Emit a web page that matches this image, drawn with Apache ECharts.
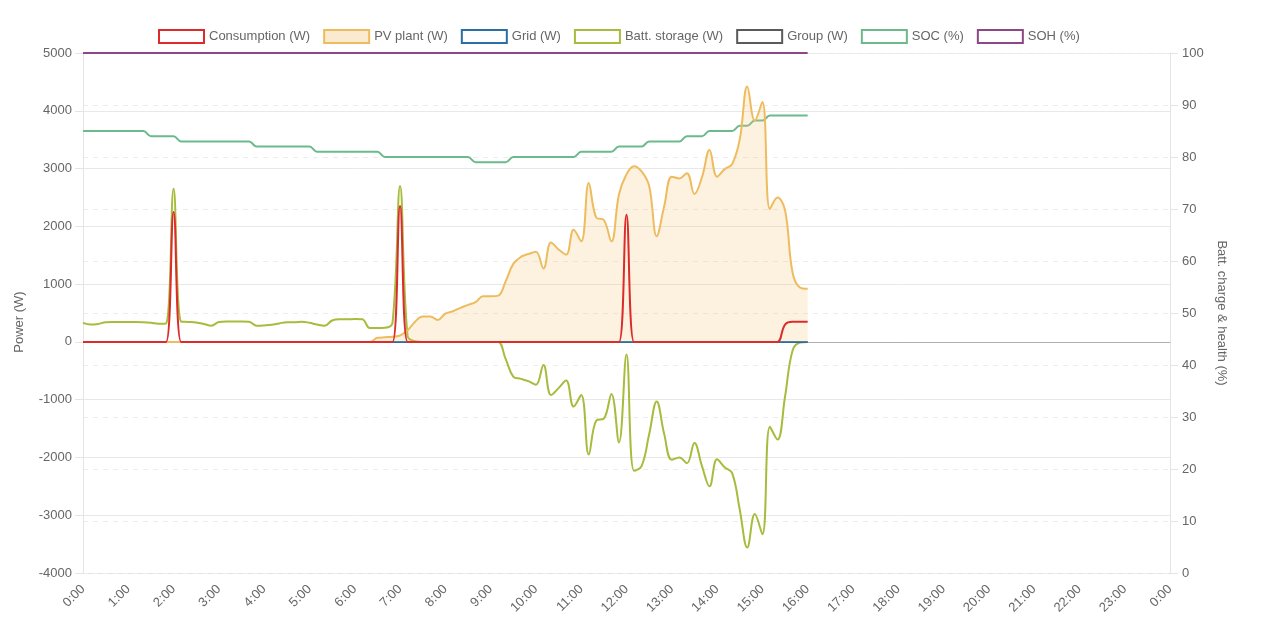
<!DOCTYPE html>
<html><head><meta charset="utf-8">
<script src="https://cdn.jsdelivr.net/npm/echarts@6/dist/echarts.min.js"></script>
<style>html,body{margin:0;padding:0;background:#fff}#c{width:1262px;height:634px}</style>
</head><body><div id="c"></div>
<script>
// Hour tick labels (one per hour, 10-minute data resolution)
const hourLabels = ['0:00','1:00','2:00','3:00','4:00','5:00','6:00','7:00','8:00','9:00','10:00','11:00','12:00','13:00','14:00','15:00','16:00','17:00','18:00','19:00','20:00','21:00','22:00','23:00','0:00'];
const categories = [];
for (let h = 0; h < 24; h++) { for (let m = 0; m < 60; m += 10) categories.push(h + ':' + (m < 10 ? '0' + m : m)); }
categories.push('24:00');

const seriesNames = ['Consumption (W)','PV plant (W)','Grid (W)','Batt. storage (W)','Group (W)','SOC (%)','SOH (%)'];

const consumption = [
0,0,0,0,0,0,0,0,0,0,
0,0,2250,0,0,0,0,0,0,0,
0,0,0,0,0,0,0,0,0,0,
0,0,0,0,0,0,0,0,0,0,
0,0,2350,0,0,0,0,0,0,0,
0,0,0,0,0,0,0,0,0,0,
0,0,0,0,0,0,0,0,0,0,
0,0,2200,0,0,0,0,0,0,0,
0,0,0,0,0,0,0,0,0,0,
0,0,0,300,350,350,350];

const pvPlant = [
0,0,0,0,0,0,0,0,0,0,
0,0,0,0,0,0,0,0,0,0,
0,0,0,0,0,0,0,0,0,0,
0,0,0,0,0,0,0,0,0,70,
80,90,110,200,350,440,440,380,490,530,
590,640,690,790,790,800,1050,1350,1470,1520,
1560,1270,1720,1600,1510,1940,1740,2750,2150,2110,
1740,2550,2900,3040,2950,2700,1830,2350,2860,2830,
2920,2560,2850,3320,2860,2990,3080,3500,4420,3830,
4150,2300,2500,2280,1200,940,920];

const gridPower = [
0,0,0,0,0,0,0,0,0,0,
0,0,0,0,0,0,0,0,0,0,
0,0,0,0,0,0,0,0,0,0,
0,0,0,0,0,0,0,0,0,0,
0,0,0,0,0,0,0,0,0,0,
0,0,0,0,0,0,0,0,0,0,
0,0,0,0,0,0,0,0,0,0,
0,0,0,0,0,0,0,0,0,0,
0,0,0,0,0,0,0,0,0,0,
0,0,0,0,0,0,0];

const battStorage = [
330,300,310,340,345,345,345,345,340,330,
315,320,2650,350,345,335,310,280,345,355,
355,355,350,280,285,295,320,340,340,350,
330,300,280,370,390,390,395,390,240,240,
245,330,2700,100,10,0,0,0,0,0,
0,0,0,0,0,0,-300,-600,-640,-680,
-740,-400,-920,-800,-670,-1120,-920,-1950,-1360,-1330,
-900,-1740,-220,-2230,-2150,-1600,-1030,-1600,-2040,-2000,
-2100,-1750,-2150,-2500,-2030,-2170,-2270,-2900,-3560,-2980,
-3330,-1470,-1690,-950,-150,-10,0];

const groupPower = [
0,0,0,0,0,0,0,0,0,0,
0,0,0,0,0,0,0,0,0,0,
0,0,0,0,0,0,0,0,0,0,
0,0,0,0,0,0,0,0,0,0,
0,0,0,0,0,0,0,0,0,0,
0,0,0,0,0,0,0,0,0,0,
0,0,0,0,0,0,0,0,0,0,
0,0,0,0,0,0,0,0,0,0,
0,0,0,0,0,0,0,0,0,0,
0,0,0,0,0,0,0];

const soc = [
85,85,85,85,85,85,85,85,85,84,
84,84,84,83,83,83,83,83,83,83,
83,83,83,82,82,82,82,82,82,82,
82,81,81,81,81,81,81,81,81,81,
80,80,80,80,80,80,80,80,80,80,
80,80,79,79,79,79,79,80,80,80,
80,80,80,80,80,80,81,81,81,81,
81,82,82,82,82,83,83,83,83,83,
84,84,84,85,85,85,85,86,86,87,
87,88,88,88,88,88,88];

const soh = [
100,100,100,100,100,100,100,100,100,100,
100,100,100,100,100,100,100,100,100,100,
100,100,100,100,100,100,100,100,100,100,
100,100,100,100,100,100,100,100,100,100,
100,100,100,100,100,100,100,100,100,100,
100,100,100,100,100,100,100,100,100,100,
100,100,100,100,100,100,100,100,100,100,
100,100,100,100,100,100,100,100,100,100,
100,100,100,100,100,100,100,100,100,100,
100,100,100,100,100,100,100];

const powerTicks = { min: -4000, max: 5000, interval: 1000 };
const pctTicks = { min: 0, max: 100, interval: 10 };

const colors = {
  cons: '#dc2b2b', pv: '#eebc5f', pvFill: 'rgba(240,195,110,0.32)', grid: '#2b6ea6',
  batt: '#a7bc3c', group: '#5a5a5a', soc: '#6cb98b', soh: '#8d4784'
};
const font = '"Liberation Sans", Arial, Helvetica, sans-serif';
const legendColors = [colors.cons, colors.pv, colors.grid, colors.batt, colors.group, colors.soc, colors.soh];

function lineSeries(name, data, color, yIdx, z, extra) {
  return Object.assign({
    name: name, type: 'line', data: data, yAxisIndex: yIdx, smooth: 0.4,
    symbol: 'none', z: z, lineStyle: { color: color, width: 2 }, itemStyle: { color: color }
  }, extra || {});
}

const chart = echarts.init(document.getElementById('c'), null, { renderer: 'canvas' });
const gridLineColors = ['#e2e2e2','#e8e8e8','#e8e8e8','#e8e8e8','#bdbdbd','#e8e8e8','#e8e8e8','#e8e8e8','#e8e8e8','#e8e8e8'];

chart.setOption({
  animation: false,
  backgroundColor: '#fff',
  textStyle: { fontFamily: font },
  legend: {
    top: 24, left: 153, itemWidth: 45, itemHeight: 13, itemGap: 13, icon: 'rect',
    textStyle: { color: '#666', fontSize: 13, fontFamily: font },
    data: seriesNames.map((n, i) => ({
      name: n,
      itemStyle: { color: i === 1 ? '#faebd0' : '#fff', borderColor: legendColors[i], borderWidth: 2 }
    }))
  },
  grid: { left: 83, right: 92, top: 53, bottom: 61, containLabel: false },
  xAxis: {
    type: 'category', data: categories, boundaryGap: false,
    axisLine: { lineStyle: { color: '#b0b0b0', width: 1 } },
    axisTick: { show: false },
    axisLabel: {
      interval: 5, rotate: 45, color: '#666', fontSize: 13, fontFamily: font, margin: 14,
      formatter: (v, idx) => hourLabels[Math.round(idx / 6)]
    },
    splitLine: { show: false }
  },
  yAxis: [
    {
      type: 'value', min: powerTicks.min, max: powerTicks.max, interval: powerTicks.interval,
      name: 'Power (W)', nameLocation: 'middle', nameGap: 57,
      nameTextStyle: { color: '#666', fontSize: 13, fontFamily: font, padding: [0, 0, 0, -18] },
      axisLine: { show: true, lineStyle: { color: '#e4e4e4' } },
      axisTick: { show: true, length: 8, lineStyle: { color: '#e4e4e4' } },
      axisLabel: { color: '#666', fontSize: 13, fontFamily: font, margin: 11, formatter: v => String(v) },
      splitLine: { show: true, lineStyle: { color: gridLineColors, width: 1 } }
    },
    {
      type: 'value', min: pctTicks.min, max: pctTicks.max, interval: pctTicks.interval, position: 'right',
      name: 'Batt. charge & health (%)', nameLocation: 'middle', nameGap: 45, nameRotate: -90,
      nameTextStyle: { color: '#666', fontSize: 13, fontFamily: font },
      axisLine: { show: true, lineStyle: { color: '#e4e4e4' } },
      axisTick: { show: true, length: 8, lineStyle: { color: '#e4e4e4' } },
      axisLabel: { color: '#666', fontSize: 13, fontFamily: font, margin: 12, formatter: v => String(v) },
      splitLine: { show: true, lineStyle: { color: '#ececec', type: [5, 5], width: 1 } }
    }
  ],
  series: [
    lineSeries(seriesNames[6], soh, colors.soh, 1, 2, { clip: false }),
    lineSeries(seriesNames[5], soc, colors.soc, 1, 3),
    lineSeries(seriesNames[4], groupPower, colors.group, 0, 4),
    lineSeries(seriesNames[3], battStorage, colors.batt, 0, 5),
    lineSeries(seriesNames[2], gridPower, colors.grid, 0, 6),
    lineSeries(seriesNames[1], pvPlant, colors.pv, 0, 7, { areaStyle: { color: colors.pvFill } }),
    lineSeries(seriesNames[0], consumption, colors.cons, 0, 8)
  ]
});
</script>
</body></html>
